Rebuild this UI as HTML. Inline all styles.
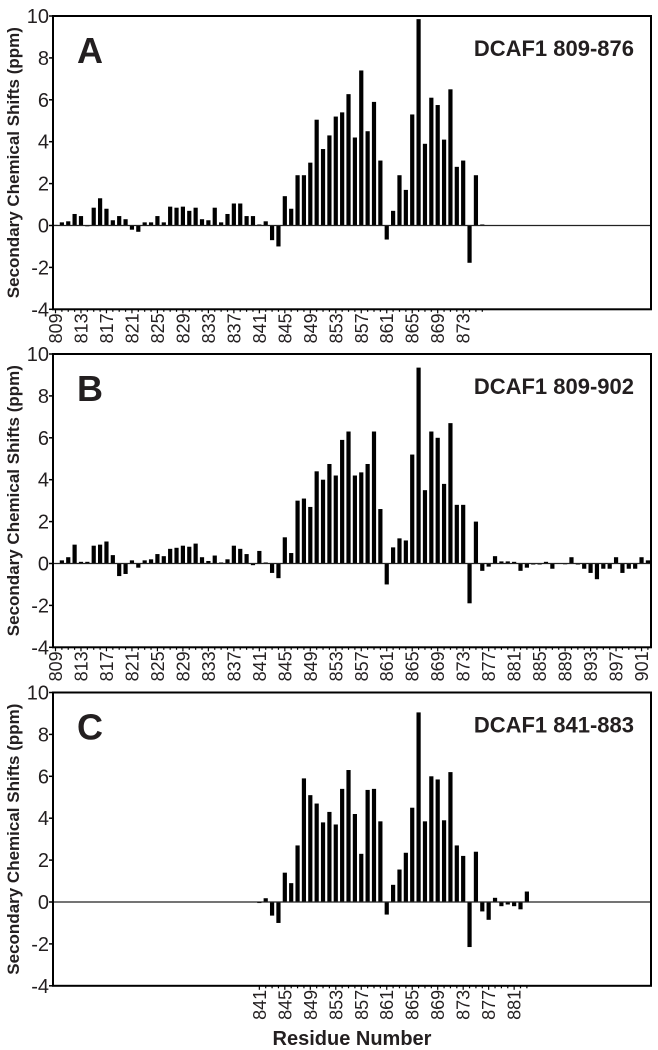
<!DOCTYPE html>
<html><head><meta charset="utf-8">
<style>
html,body{margin:0;padding:0;background:#fff;}
svg{display:block;}
text{font-family:"Liberation Sans",Arial,sans-serif;fill:#231f20;}
</style></head>
<body>
<svg id="chart" width="658" height="1050" viewBox="0 0 658 1050" xmlns="http://www.w3.org/2000/svg"></svg>
<script>
const yTicks = [-4,-2,0,2,4,6,8,10];
const residuesA = [809,810,811,812,813,814,815,816,817,818,819,820,821,822,823,824,825,826,827,828,829,830,831,832,833,834,835,836,837,838,839,840,841,842,843,844,845,846,847,848,849,850,851,852,853,854,855,856,857,858,859,860,861,862,863,864,865,866,867,868,869,870,871,872,873,874,875,876];
const valuesA = [0.03,0.15,0.2,0.55,0.45,-0.02,0.85,1.3,0.8,0.25,0.45,0.3,-0.2,-0.3,0.15,0.15,0.45,0.15,0.9,0.85,0.9,0.7,0.85,0.3,0.25,0.85,0.15,0.55,1.05,1.05,0.45,0.45,0.05,0.2,-0.7,-1.0,1.4,0.8,2.4,2.4,3.0,5.05,3.65,4.3,5.2,5.4,6.27,4.2,7.4,4.5,5.9,3.1,-0.67,0.7,2.4,1.7,5.3,9.85,3.9,6.1,5.75,4.1,6.5,2.8,3.1,-1.78,2.4,0.05];
const residuesB = [809,810,811,812,813,814,815,816,817,818,819,820,821,822,823,824,825,826,827,828,829,830,831,832,833,834,835,836,837,838,839,840,841,842,843,844,845,846,847,848,849,850,851,852,853,854,855,856,857,858,859,860,861,862,863,864,865,866,867,868,869,870,871,872,873,874,875,876,877,878,879,880,881,882,883,884,885,886,887,888,889,890,891,892,893,894,895,896,897,898,899,900,901,902];
const valuesB = [0.02,0.15,0.3,0.9,0.08,0.08,0.85,0.9,1.05,0.4,-0.6,-0.5,0.15,-0.2,0.15,0.2,0.45,0.35,0.7,0.75,0.85,0.8,0.95,0.3,0.12,0.38,0.05,0.2,0.85,0.7,0.45,-0.08,0.6,0.05,-0.45,-0.7,1.25,0.5,3.0,3.1,2.7,4.4,4.0,4.75,4.2,5.9,6.3,4.2,4.35,4.75,6.3,2.6,-1.0,0.77,1.2,1.1,5.2,9.35,3.5,6.3,6.0,3.8,6.7,2.8,2.8,-1.9,2.0,-0.35,-0.15,0.35,0.1,0.1,0.08,-0.35,-0.2,-0.05,-0.05,0.08,-0.25,0.02,-0.02,0.3,-0.05,-0.25,-0.45,-0.75,-0.25,-0.25,0.3,-0.45,-0.25,-0.25,0.3,0.15];
const residuesC = [841,842,843,844,845,846,847,848,849,850,851,852,853,854,855,856,857,858,859,860,861,862,863,864,865,866,867,868,869,870,871,872,873,874,875,876,877,878,879,880,881,882,883];
const valuesC = [-0.05,0.18,-0.65,-1.0,1.4,0.9,2.7,5.9,5.1,4.7,3.8,4.3,3.7,5.4,6.3,4.2,2.3,5.35,5.4,3.85,-0.6,0.82,1.55,2.35,4.5,9.05,3.85,6.0,5.85,3.9,6.2,2.7,2.2,-2.15,2.4,-0.45,-0.85,0.2,-0.2,-0.12,-0.2,-0.35,0.5];
const panelLetters = ["A","B","C"];
const panelTitles = ["DCAF1 809-876","DCAF1 809-902","DCAF1 841-883"];
const tickRanges = [[809,876],[809,902],[841,883]];

const NS="http://www.w3.org/2000/svg";
const svg=document.getElementById('chart');
function mk(tag,attrs,parent){const e=document.createElementNS(NS,tag);for(const k in attrs)e.setAttribute(k,attrs[k]);(parent||svg).appendChild(e);return e;}

const L=53,R=651,PX=6.37,X0=55.5;
const xScale=r=>X0+(r-809)*PX;
const panels=[{top:16,res:residuesA,val:valuesA},{top:354,res:residuesB,val:valuesB},{top:692.5,res:residuesC,val:valuesC}];
const UNIT=20.95;

panels.forEach((p,pi)=>{
  const g=mk('g',{});
  
  
  const yScale=v=>p.top+(10-v)*UNIT;
  const bottom=yScale(-4);
  yTicks.forEach(t=>{
    const y=yScale(t);
    const tk=mk('line',{x1:L-4,x2:L,y1:y,y2:y,stroke:'#000','stroke-width':1.5},g);
    
    
    const tx=mk('text',{x:L-4,y:y+7,'text-anchor':'end','font-size':20},g);
    
    
    tx.textContent=t;
  });
  p.res.forEach((r,i)=>{
    const v=p.val[i];
    const x=xScale(r);
    const y0=yScale(0),y1=yScale(v);
    const b=mk('rect',{x:x-2.1,y:Math.min(y0,y1),width:4.2,height:Math.max(0.8,Math.abs(y1-y0)),fill:'#000'},g);
    
    
  });
  const z=mk('line',{x1:L,x2:R,y1:yScale(0),y2:yScale(0),stroke:'#222','stroke-width':1.2},g);
  
  
  const f=mk('rect',{x:L,y:p.top,width:R-L,height:bottom-p.top,fill:'none',stroke:'#000','stroke-width':2},g);
  
  
  const [a,bnd]=tickRanges[pi];
  for(let r=a;r<=bnd;r++){
    const x=xScale(r);
    const major=(r-809)%4===0;
    const t=mk('line',{x1:x,x2:x,y1:bottom,y2:bottom+(major?4:2.5),stroke:'#000','stroke-width':1.2},g);
    
    
    if(major && r<bnd){
      const lb=mk('text',{x:0,y:0,'text-anchor':'end','font-size':18,transform:`translate(${x+6.5},${bottom+4}) rotate(-90)`},g);
      
      
      lb.textContent=r;
    }
  }
  const yt=mk('text',{x:0,y:0,'text-anchor':'middle','font-size':17,'font-weight':'bold',transform:`translate(19,${(p.top+bottom)/2}) rotate(-90)`},g);
  
  
  yt.textContent='Secondary Chemical Shifts (ppm)';
  const lt=mk('text',{x:77,y:p.top+47,'font-size':36,'font-weight':'bold'},g);
  
  
  lt.textContent=panelLetters[pi];
  const tt=mk('text',{x:634,y:p.top+40,'text-anchor':'end','font-size':22,'font-weight':'bold'},g);
  
  
  tt.textContent=panelTitles[pi];
});
const xt=mk('text',{x:352,y:1045,'text-anchor':'middle','font-size':20,'font-weight':'bold'});


xt.textContent='Residue Number';
</script>
</body></html>
